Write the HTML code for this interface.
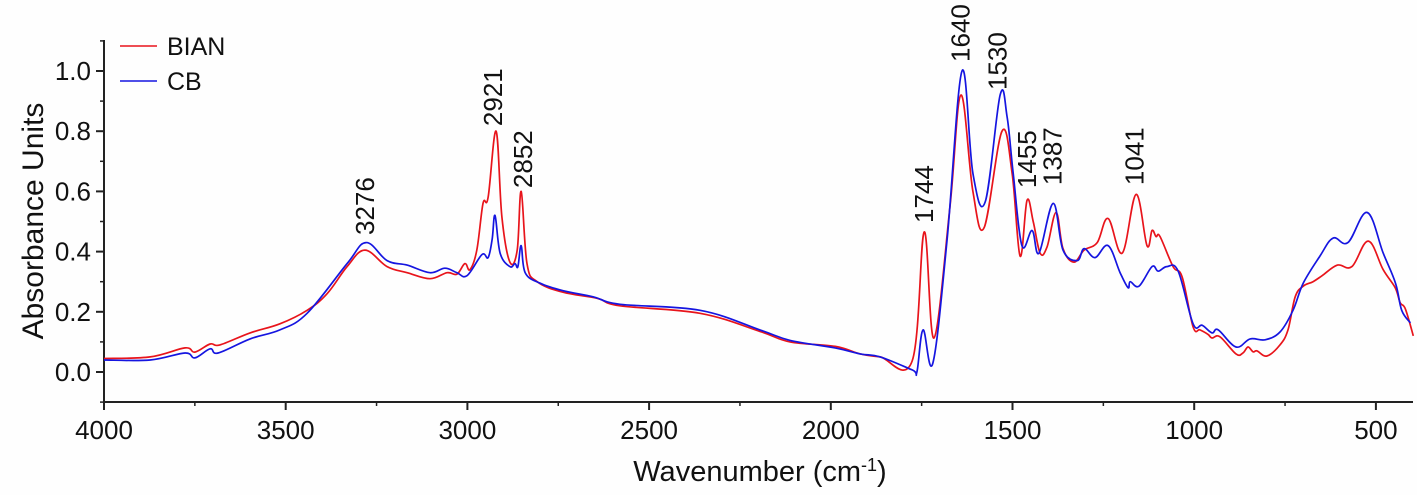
<!DOCTYPE html>
<html><head><meta charset="utf-8"><style>
html,body{margin:0;padding:0;background:#fff;}
svg{display:block;font-family:"Liberation Sans",Arial,sans-serif;}
</style></head><body>
<svg id="chart" width="1417" height="495" viewBox="0 0 1417 495" xmlns="http://www.w3.org/2000/svg">
<rect width="1417" height="495" fill="#fefefe"/>
<g id="axes"></g>
<g id="series"></g>
<g id="labels"></g>
<g>
<line x1="120" y1="46" x2="157" y2="46" stroke="#e8141b" stroke-width="1.6"/>
<text x="167" y="55" font-size="25" fill="#111">BIAN</text>
<line x1="120" y1="81" x2="157" y2="81" stroke="#1515e0" stroke-width="1.6"/>
<text x="167" y="90" font-size="25" fill="#111">CB</text>
</g>
<text x="760" y="481" font-size="29" text-anchor="middle" fill="#111">Wavenumber (cm<tspan baseline-shift="super" font-size="18">-1</tspan>)</text>
<text transform="translate(43,221) rotate(-90)" font-size="30" text-anchor="middle" fill="#111">Absorbance Units</text>
</svg>
<script>
const xTicks=[4000,3500,3000,2500,2000,1500,1000,500];
const xMinorTicks=[3750,3250,2750,2250,1750,1250,750];
const yTicks=[0.0,0.2,0.4,0.6,0.8,1.0];
const yMinorTicks=[-0.1,0.1,0.3,0.5,0.7,0.9,1.1];
const bianWn=[4000,3873,3777,3750,3708,3681,3598,3516,3441,3386,3331,3282,3221,3166,3103,3056,3029,3007,2993,2974,2957,2943,2921,2905,2883,2863,2852,2836,2808,2737,2643,2580,2360,2195,2112,1988,1919,1864,1776,1743,1716,1672,1642,1609,1578,1529,1501,1479,1460,1443,1424,1405,1380,1361,1331,1303,1267,1237,1198,1160,1130,1116,1105,1094,1058,1033,1003,984,962,951,929,885,866,852,838,827,800,764,742,722,700,673,648,606,566,521,480,447,433,419,397];
const bianVals=[0.045,0.05,0.08,0.066,0.093,0.09,0.13,0.16,0.205,0.26,0.35,0.405,0.35,0.33,0.31,0.33,0.325,0.36,0.34,0.405,0.56,0.58,0.80,0.515,0.365,0.405,0.60,0.36,0.30,0.265,0.245,0.22,0.195,0.135,0.10,0.085,0.06,0.05,0.037,0.465,0.113,0.55,0.92,0.60,0.48,0.80,0.66,0.385,0.57,0.50,0.395,0.415,0.53,0.41,0.365,0.405,0.43,0.51,0.395,0.59,0.42,0.47,0.45,0.45,0.35,0.315,0.15,0.14,0.125,0.113,0.117,0.06,0.063,0.083,0.067,0.07,0.053,0.09,0.14,0.25,0.285,0.30,0.32,0.355,0.35,0.435,0.34,0.28,0.23,0.21,0.12];
const cbWn=[4000,3873,3777,3750,3708,3686,3598,3516,3441,3331,3279,3221,3166,3103,3062,3029,3001,2960,2943,2932,2924,2910,2883,2869,2861,2852,2841,2800,2737,2654,2580,2360,2195,2112,1988,1919,1864,1776,1763,1746,1719,1680,1639,1609,1575,1534,1515,1498,1474,1446,1427,1388,1361,1322,1303,1273,1237,1204,1182,1176,1152,1116,1099,1075,1044,1003,978,951,934,885,846,805,764,728,700,654,618,577,524,480,446,429,405];
const cbVals=[0.04,0.04,0.063,0.047,0.077,0.063,0.11,0.14,0.195,0.36,0.43,0.37,0.355,0.33,0.345,0.33,0.32,0.39,0.38,0.44,0.52,0.395,0.35,0.36,0.35,0.42,0.33,0.295,0.27,0.25,0.225,0.205,0.14,0.105,0.08,0.06,0.05,0.007,0.0,0.14,0.03,0.44,1.0,0.66,0.565,0.92,0.85,0.66,0.42,0.47,0.395,0.56,0.405,0.37,0.41,0.38,0.42,0.33,0.28,0.30,0.285,0.35,0.335,0.35,0.335,0.16,0.155,0.13,0.14,0.083,0.11,0.107,0.133,0.205,0.295,0.385,0.445,0.43,0.53,0.395,0.295,0.205,0.163];
const peakNames=["3276","2921","2852","1744","1640","1530","1455","1387","1041"];
const peakWn=[3276,2921,2852,1744,1640,1530,1455,1387,1041];
const peakLabelVals=[0.455,0.817,0.611,0.495,1.03,0.937,0.611,0.621,0.621];
const peakLabelShift=[-1,-2,3,1,0,-3,-1,0,-44];

const NS="http://www.w3.org/2000/svg";
const X0=104,XSCALE=0.3634,Y0=372,YSCALE=301;
function xs(w){return X0+(4000-w)*XSCALE;}
function ys(v){return Y0-v*YSCALE;}
function mk(tag,attrs,parent){const e=document.createElementNS(NS,tag);for(const k in attrs)e.setAttribute(k,attrs[k]);parent.appendChild(e);return e;}
const axes=document.getElementById('axes');
const xl=mk('line',{x1:X0,y1:402,x2:1413,y2:402,stroke:'#222','stroke-width':2},axes);


const yl=mk('line',{x1:X0,y1:40,x2:X0,y2:402,stroke:'#222','stroke-width':2},axes);


xTicks.forEach(t=>{
  const x=xs(t);
  const tk=mk('line',{x1:x,y1:402,x2:x,y2:410,stroke:'#222','stroke-width':2},axes);
  
  
  const tx=mk('text',{x:x,y:439,'font-size':26,'text-anchor':'middle',fill:'#111'},axes);
  tx.textContent=String(t);
  
  
});
xMinorTicks.forEach(t=>{
  const tk=mk('line',{x1:xs(t),y1:402,x2:xs(t),y2:406,stroke:'#222','stroke-width':1.5},axes);
  
  
});
yTicks.forEach(t=>{
  const y=ys(t);
  const tk=mk('line',{x1:X0-8,y1:y,x2:X0,y2:y,stroke:'#222','stroke-width':2},axes);
  
  
  const tx=mk('text',{x:X0-13,y:y+9,'font-size':26,'text-anchor':'end',fill:'#111'},axes);
  tx.textContent=t.toFixed(1);
  
  
});
yMinorTicks.forEach(t=>{
  const tk=mk('line',{x1:X0-4,y1:ys(t),x2:X0,y2:ys(t),stroke:'#222','stroke-width':1.5},axes);
  
  
});
function pathFor(wn,vals){
  const p=wn.map((w,i)=>[xs(w),ys(vals[i])]);
  let d='M'+p[0][0].toFixed(1)+','+p[0][1].toFixed(1);
  for(let i=0;i<p.length-1;i++){
    const p0=p[Math.max(0,i-1)],p1=p[i],p2=p[i+1],p3=p[Math.min(p.length-1,i+2)];
    const t=0.18;
    const c1x=p1[0]+(p2[0]-p0[0])*t,c1y=p1[1]+(p2[1]-p0[1])*t;
    const c2x=p2[0]-(p3[0]-p1[0])*t,c2y=p2[1]-(p3[1]-p1[1])*t;
    d+=' C'+c1x.toFixed(1)+','+c1y.toFixed(1)+' '+c2x.toFixed(1)+','+c2y.toFixed(1)+' '+p2[0].toFixed(1)+','+p2[1].toFixed(1);
  }
  return d;
}
const series=document.getElementById('series');
const pb=mk('path',{d:pathFor(bianWn,bianVals),fill:'none',stroke:'#e8141b','stroke-width':1.7,'stroke-linejoin':'round'},series);


const pc=mk('path',{d:pathFor(cbWn,cbVals),fill:'none',stroke:'#1515e0','stroke-width':1.7,'stroke-linejoin':'round'},series);


const labels=document.getElementById('labels');
peakNames.forEach((n,i)=>{
  const x=xs(peakWn[i])+peakLabelShift[i]+8,y=ys(peakLabelVals[i]);
  const t=mk('text',{transform:'translate('+x.toFixed(1)+','+y.toFixed(1)+') rotate(-90)','font-size':26,fill:'#111'},labels);
  t.textContent=n;
  
  
});
</script>
</body></html>
